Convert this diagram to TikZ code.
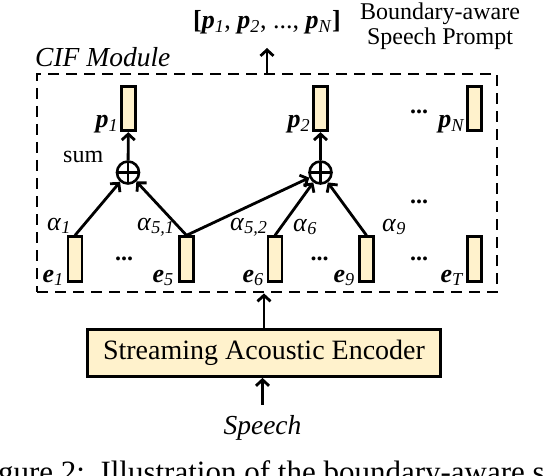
\documentclass[tikz,border=0pt]{standalone}
\usepackage{fontspec}
\setmainfont{Liberation Serif}
\usetikzlibrary{arrows.meta}
\definecolor{boxfill}{HTML}{FFF2CC}
\newcommand\vecl[2]{\textbf{\textit{#1}}\textsubscript{\textit{#2}}}
\newcommand\alp[1]{\textit{α}\textsubscript{\textit{#1}}}
\begin{document}
\begin{tikzpicture}[x=1pt,y=-1pt,
  vec/.style={draw, fill=boxfill, line width=2.8pt, minimum width=14pt, minimum height=44.5pt, inner sep=0pt},
  lab/.style={inner sep=0pt, font=\fontsize{26}{30}\selectfont},
  arr/.style={line width=2.8pt, -{Straight Barb[length=6pt,width=13pt]}},
  sumnode/.style={circle, draw, line width=2.6pt, minimum size=22pt, inner sep=0pt,
    path picture={\draw[line width=2.2pt] (path picture bounding box.north) -- (path picture bounding box.south)
      (path picture bounding box.west) -- (path picture bounding box.east);}},
  dots/.style={inner sep=0pt, font=\bfseries\fontsize{24}{28}\selectfont, anchor=base},
]
\useasboundingbox (0,0) rectangle (544,476);
\fill[white] (0,0) rectangle (544,476);

% CIF module frame
\node[draw, line width=2.8pt, dash pattern=on 11pt off 7pt, minimum width=460pt, minimum height=218pt] (cif) at (267,183) {};
\node[lab, anchor=base west, font=\itshape\fontsize{27.5}{30}\selectfont] (ciflab) at (35,67) {CIF Module};

% prompt vectors
\node[vec] (p1) at (128.5,108.5) {};
\node[vec] (p2) at (320.5,108.5) {};
\node[vec] (pN) at (474.5,108.5) {};
\node[lab, anchor=base east] (lp1) at (118.5,128) {\vecl{p}{1}};
\node[lab, anchor=base east] (lp2) at (310.5,128) {\vecl{p}{2}};
\node[lab, anchor=base east] (lpN) at (465,128) {\vecl{p}{N}};

% sums
\node[sumnode] (s1) at (128,172.5) {};
\node[sumnode] (s2) at (320.5,172.5) {};
\node[lab, anchor=base west, font=\fontsize{24}{28}\selectfont] (sumlab) at (63,163) {sum};

% encoder vectors
\node[vec] (e1) at (75,259) {};
\node[vec] (e5) at (186.5,259) {};
\node[vec] (e6) at (275,259) {};
\node[vec] (e9) at (366.5,259) {};
\node[vec] (eT) at (474.5,259) {};
\node[lab, anchor=base east] (le1) at (64,282) {\vecl{e}{1}};
\node[lab, anchor=base east] (le5) at (174,282) {\vecl{e}{5}};
\node[lab, anchor=base east] (le6) at (264,282) {\vecl{e}{6}};
\node[lab, anchor=base east] (le9) at (355,282) {\vecl{e}{9}};
\node[lab, anchor=base east] (leT) at (464,282) {\vecl{e}{T}};

% weights
\node[lab, anchor=base west] (a1) at (47,230) {\alp{1}};
\node[lab, anchor=base west] (a51) at (137,230) {\alp{5,1}};
\node[lab, anchor=base west] (a52) at (230,230) {\alp{5,2}};
\node[lab, anchor=base west] (a6) at (293,231) {\alp{6}};
\node[lab, anchor=base west] (a9) at (382,231) {\alp{9}};

% dots
\node[dots] (d1) at (124,260) {...};
\node[dots] (d2) at (319.5,260) {...};
\node[dots] (d3) at (419,260) {...};
\node[dots] (d4) at (419,204) {...};
\node[dots] (d5) at (419,114) {...};

% connectors inside
\draw[arr] (e1.north) -- (s1);
\draw[arr] (e5.north) -- (s1);
\draw[arr] (e5.north) -- (s2);
\draw[arr] (e6.north) -- (s2);
\draw[arr] (e9.north) -- (s2);
\draw[arr] (s1) -- (p1);
\draw[arr] (s2) -- (p2);

% output
\node[lab, anchor=base west] (out) at (193,29) {\textbf{[}\vecl{p}{1}, \vecl{p}{2}, ..., \vecl{p}{N}\textbf{]}};
\coordinate (outtip) at (267,48);
\draw[arr] (cif.north) -- (outtip);
\node[lab, align=center, anchor=north, font=\fontsize{24}{25}\selectfont] (bas) at (440,3) {Boundary-aware\\Speech Prompt};

% encoder
\node[draw, fill=boxfill, line width=2.8pt, minimum width=353pt, minimum height=47pt, inner sep=0pt,
  font=\fontsize{28}{30}\selectfont] (enc) at (264,353) {Streaming Acoustic Encoder};
\draw[arr] (enc.north) -- (enc.north |- cif.south);
\node[lab, anchor=base, font=\itshape\fontsize{27.5}{30}\selectfont] (speech) at (262.5,434) {Speech};
\draw[arr, shorten <=10pt] (speech.north) -- (speech.north |- enc.south);

% caption fragment (cut off by the frame, as in the reference)
\node[lab, anchor=base west, font=\fontsize{31}{34}\selectfont] (cap) at (-28,482) {Figure 2:\ \ Illustration of the boundary-aware speech prompt};
\end{tikzpicture}
\end{document}
